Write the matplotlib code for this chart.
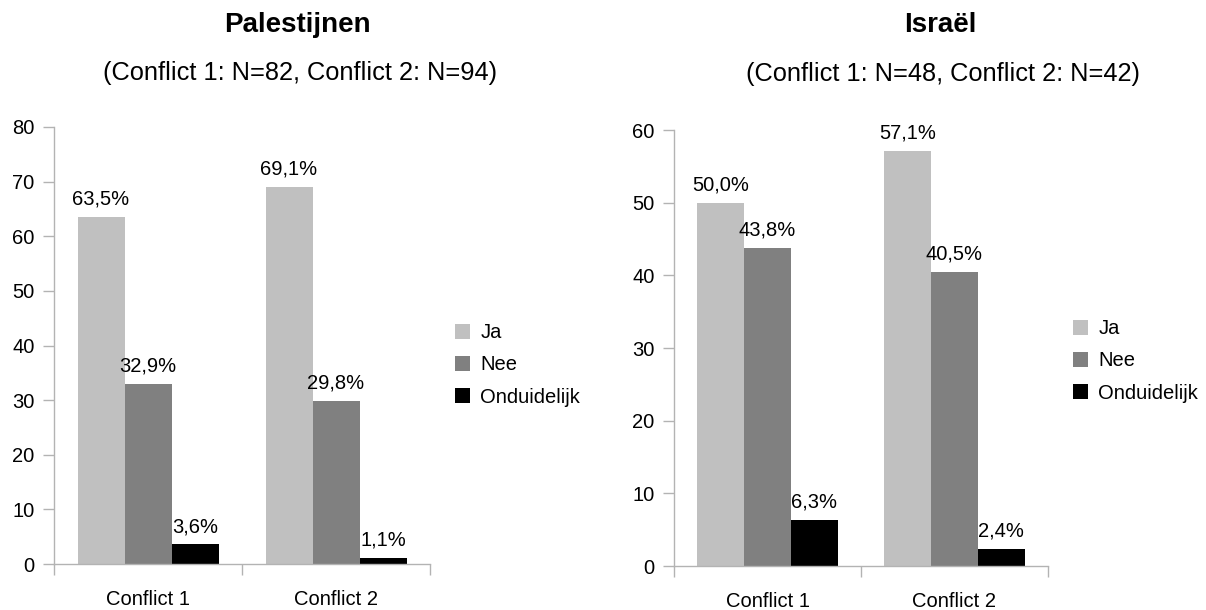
import matplotlib
matplotlib.use("Agg")
import matplotlib.pyplot as plt
import numpy as np

plt.rcParams['font.family'] = ['Liberation Sans', 'DejaVu Sans']

categories = ["Conflict 1", "Conflict 2"]
series = ["Ja", "Nee", "Onduidelijk"]
colors = ["#c0c0c0", "#808080", "#000000"]

pal_ja = [63.5, 69.1]
pal_nee = [32.9, 29.8]
pal_ond = [3.6, 1.1]

isr_ja = [50.0, 57.1]
isr_nee = [43.8, 40.5]
isr_ond = [6.3, 2.4]

pal_title = "Palestijnen"
pal_sub = "(Conflict 1: N=82, Conflict 2: N=94)"
isr_title = "Israël"
isr_sub = "(Conflict 1: N=48, Conflict 2: N=42)"

W, H = 1206, 610
fig = plt.figure(figsize=(W / 100, H / 100), dpi=100)

spine_col = "#b3b3b3"
fs = 14.5


def draw(ax, data, ymax, legend_xy):
    x = np.arange(len(categories)) + 0.5
    width = 0.25
    handles = []
    for i, (vals, col, name) in enumerate(zip(data, colors, series)):
        bars = ax.bar(x + (i - 1) * width, vals, width, color=col, label=name,
                      linewidth=0)
        handles.append(bars)
        for b, v in zip(bars, vals):
            ax.annotate(f"{v:.1f}%".replace(".", ","),
                        (b.get_x() + b.get_width() / 2, b.get_height()),
                        xytext=(0, 6), textcoords="offset points",
                        ha="center", va="bottom", fontsize=fs)
    ax.set_xlim(0, len(categories))
    ax.set_ylim(0, ymax)
    ax.set_yticks(np.arange(0, ymax + 1, 10))
    ax.set_xticks(np.arange(0, len(categories) + 1))
    ax.set_xticklabels([])
    ax.set_xticks(x, minor=True)
    ax.set_xticklabels(categories, minor=True, fontsize=fs)
    ax.tick_params(axis="x", which="minor", length=0, pad=18.5)
    ax.tick_params(axis="x", which="major", length=8, color=spine_col, width=1)
    ax.tick_params(axis="y", length=8, color=spine_col, width=1, pad=6,
                   labelsize=fs)
    for s in ["top", "right"]:
        ax.spines[s].set_visible(False)
    for s in ["left", "bottom"]:
        ax.spines[s].set_color(spine_col)
        ax.spines[s].set_linewidth(1)
    fig.legend(handles=handles, labels=series, loc="center left",
               bbox_to_anchor=legend_xy, frameon=False, fontsize=fs,
               handlelength=0.75, handleheight=0.75, handletextpad=0.5,
               labelspacing=0.65, borderpad=0, borderaxespad=0)


ax1 = fig.add_axes([54 / W, 1 - 564 / H, 376 / W, 437 / H])
draw(ax1, [pal_ja, pal_nee, pal_ond], 80, (455 / W, 1 - 365 / H))

ax2 = fig.add_axes([674 / W, 1 - 566 / H, 374 / W, 436 / H])
draw(ax2, [isr_ja, isr_nee, isr_ond], 60, (1073 / W, 1 - 361 / H))

fig.text(297 / W, 1 - 25 / H, pal_title, ha="center", va="center",
         fontsize=20, fontweight="bold")
fig.text(300 / W, 1 - 73 / H, pal_sub, ha="center", va="center", fontsize=18.3)
fig.text(940 / W, 1 - 25 / H, isr_title, ha="center", va="center",
         fontsize=20, fontweight="bold")
fig.text(943 / W, 1 - 74 / H, isr_sub, ha="center", va="center", fontsize=18.3)

fig.savefig("out.png", dpi=100)
